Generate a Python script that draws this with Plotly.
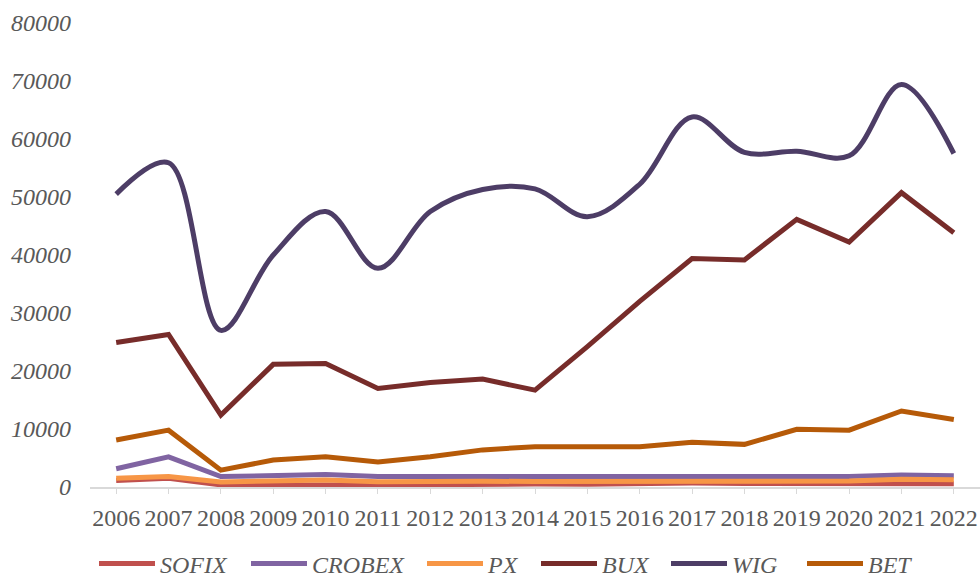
import plotly.graph_objects as go

years = [str(y) for y in range(2006, 2023)]

sofix = [1100, 1500, 360, 420, 360, 330, 380, 500, 520, 460, 580, 680, 590, 560, 450, 600, 580]
crobex = [3150, 5200, 1800, 2050, 2150, 1800, 1800, 1850, 1850, 1800, 1950, 1900, 1800, 2000, 1800, 2050, 1950]
px_idx = [1500, 1800, 860, 1120, 1220, 910, 1040, 990, 950, 960, 920, 1080, 990, 1110, 1030, 1350, 1250]
bux = [24900, 26300, 12400, 21150, 21300, 17000, 18000, 18600, 16700, 24200, 32000, 39400, 39150, 46150, 42250, 50750, 43850]
wig = [50500, 55900, 27000, 40000, 47500, 37700, 47500, 51300, 51400, 46600, 52200, 63800, 57700, 57900, 57100, 69400, 57500]
bet = [8100, 9800, 2900, 4650, 5200, 4300, 5200, 6400, 6950, 6900, 6950, 7700, 7350, 9950, 9800, 13100, 11650]

series = [
    ("SOFIX", sofix, "#C0504D", "linear"),
    ("CROBEX", crobex, "#8064A2", "linear"),
    ("PX", px_idx, "#F79646", "linear"),
    ("BUX", bux, "#772C2A", "linear"),
    ("WIG", wig, "#4D3D66", "spline"),
    ("BET", bet, "#B65A08", "linear"),
]

# legend text start positions (px) in the reference
legend_text_px = [158, 310, 486, 600, 730, 866]

L, R, T, B = 90, 0, 23, 90
W, H = 980, 577

fig = go.Figure()
layout_legends = {}
for i, (name, vals, color, shape) in enumerate(series):
    lname = "legend" if i == 0 else f"legend{i+1}"
    fig.add_trace(go.Scatter(
        x=years, y=vals, name=name, mode="lines", legend=lname,
        line=dict(color=color, width=5, shape=shape, smoothing=1.0),
    ))
    box_left = legend_text_px[i] - 64
    layout_legends[lname] = dict(
        orientation="h", xref="container", yref="container",
        x=box_left / W, xanchor="left",
        y=(H - 564) / H, yanchor="middle",
        font=dict(family="Liberation Serif", size=24, color="#595959", style="italic"),
        itemwidth=56, bgcolor="rgba(0,0,0,0)", borderwidth=0,
    )

fig.update_layout(
    width=W, height=H,
    margin=dict(l=L, r=R, t=T, b=B, autoexpand=False),
    paper_bgcolor="white", plot_bgcolor="white",
    font=dict(family="Liberation Serif", color="#595959", size=24),
    showlegend=True,
    xaxis=dict(
        type="category", range=[-0.5, 16.5], automargin=False,
        showgrid=False, showline=True, linecolor="#D9D9D9", linewidth=1.5,
        ticks="outside", ticklen=5, tickcolor="#D9D9D9", tickwidth=1,
        ticklabelstandoff=3,
        tickfont=dict(family="Liberation Serif", size=24, color="#595959"),
        zeroline=False,
    ),
    yaxis=dict(
        range=[0, 80000], automargin=False,
        tickvals=[0, 10000, 20000, 30000, 40000, 50000, 60000, 70000, 80000],
        tickformat="d",
        showgrid=False, showline=False, zeroline=False, ticks="",
        ticklabelstandoff=18,
        tickfont=dict(family="Liberation Serif", size=24, color="#595959", style="italic"),
    ),
    **layout_legends,
)

fig.write_html(
    "out.html",
    config={"displayModeBar": False},
    post_script="document.body.style.margin='0';document.body.style.overflow='hidden';",
)
